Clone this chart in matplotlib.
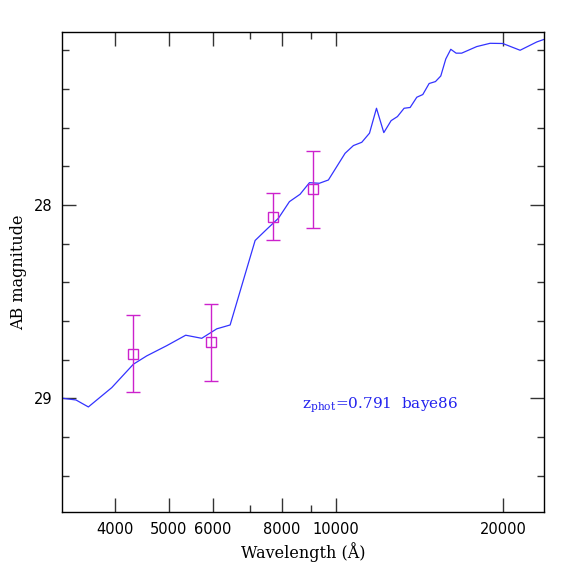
import matplotlib
matplotlib.use("Agg")
import matplotlib.pyplot as plt
from matplotlib.ticker import FixedLocator, NullFormatter

# model spectrum (wavelength in Angstrom, AB magnitude)
model_wave = [3150, 3216, 3402, 3581, 3946, 4316, 4561, 4957, 5362, 5731, 6099,
              6447, 7151, 7504, 7877, 8245, 8616, 8958, 9335, 9691, 10032,
              10385, 10750, 11130, 11492, 11830, 12195, 12571, 12905, 13266,
              13602, 13983, 14336, 14717, 15109, 15446, 15770, 16100, 16460,
              16843, 17928, 18949, 19973, 21463, 23000, 23800]
model_mag = [28.99, 29.0, 29.009, 29.045, 28.945, 28.824, 28.781, 28.728,
             28.674, 28.690, 28.641, 28.621, 28.184, 28.126, 28.069, 27.983,
             27.945, 27.885, 27.888, 27.871, 27.802, 27.733, 27.693, 27.676,
             27.629, 27.500, 27.626, 27.564, 27.543, 27.500, 27.496, 27.443,
             27.429, 27.372, 27.362, 27.333, 27.245, 27.195, 27.215, 27.215,
             27.181, 27.164, 27.165, 27.200, 27.157, 27.142]

# observed photometry
obs_wave = [4315, 5950, 7714, 9082]
obs_mag = [28.77, 28.71, 28.06, 27.92]
obs_err = [0.20, 0.20, 0.12, 0.20]

major_x = [4000, 5000, 6000, 8000, 10000, 20000]
minor_x = [7000, 9000]

fig = plt.figure(figsize=(5.74, 5.74), dpi=100)
ax = fig.add_axes([62.3 / 574, 1 - 512.3 / 574, 481.4 / 574, 480.6 / 574])

ax.plot(model_wave, model_mag, color="#3333ff", linewidth=0.9)
ax.errorbar(obs_wave, obs_mag, yerr=obs_err, fmt="s", mfc="none",
            mec="#cc22cc", ecolor="#cc22cc", color="#cc22cc",
            markersize=7.5, mew=1.0, elinewidth=1.0, capsize=5, capthick=1.0)

ax.set_xscale("log")
ax.set_xlim(3214, 23670)
ax.set_ylim(29.59, 27.104)

ax.xaxis.set_major_locator(FixedLocator(major_x))
ax.xaxis.set_minor_locator(FixedLocator(minor_x))
ax.xaxis.set_minor_formatter(NullFormatter())
ax.set_xticklabels([str(v) for v in major_x])
ax.yaxis.set_major_locator(FixedLocator([28, 29]))
ax.yaxis.set_minor_locator(FixedLocator([27.2, 27.4, 27.6, 27.8, 28.2, 28.4,
                                         28.6, 28.8, 29.2, 29.4]))
ax.set_yticklabels(["28", "29"])

ax.tick_params(which="both", direction="in", top=True, right=True,
               labelsize=10.5, width=1.0, color="#333333", pad=7)
ax.tick_params(which="major", length=10)
ax.tick_params(which="minor", length=5)
for sp in ax.spines.values():
    sp.set_linewidth(1.0)
for lab in ax.get_xticklabels() + ax.get_yticklabels():
    lab.set_family("DejaVu Sans")

ax.set_xlabel("Wavelength (Å)", family="DejaVu Serif", fontsize=11.5,
              labelpad=4)
ax.set_ylabel("AB magnitude", family="DejaVu Serif", fontsize=11.5,
              labelpad=5)

ax.text(8700, 29.035, r"z$_{\mathregular{phot}}$=0.791  baye86",
        color="#2222ee", family="DejaVu Serif", fontsize=11,
        va="center", ha="left")

fig.savefig("out.png", dpi=100)
